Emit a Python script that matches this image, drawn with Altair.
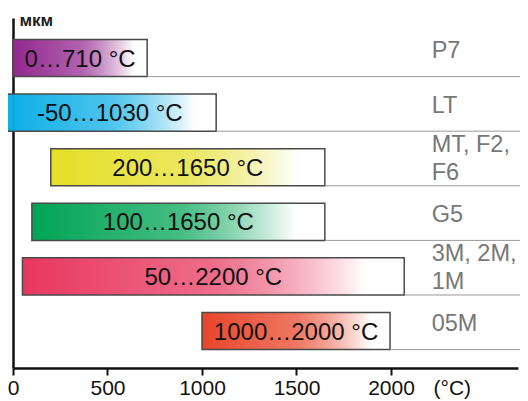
import altair as alt
import pandas as pd

# ---- data ----
label_lines = [["P7"], ["LT"], ["MT, F2,", "F6"], ["G5"], ["3M, 2M,", "1M"], ["05M"]]
# bar extents (°C) as drawn in the picture
t_min = [0, -50, 200, 100, 50, 1000]
t_max = [710, 1075, 1650, 1650, 2070, 1995]
range_text = ["0…710 °C", "-50…1030 °C", "200…1650 °C", "100…1650 °C",
              "50…2200 °C", "1000…2000 °C"]
colors = ["#93278F", "#0AAEE6", "#E4DF26", "#00A455", "#E8375F", "#E8452A"]
tick_values = [0, 500, 1000, 1500, 2000]

LABEL_X = 2215  # data position (°C) of the type labels on the right
HALF = 0.34     # half bar thickness in row units
FONT = "Liberation Sans"

df = pd.DataFrame({
    "row": list(range(len(t_min))),
    "t_min": t_min,
    "t_max": t_max,
    "range_text": range_text,
    "lines": label_lines,
})
df["label_x"] = LABEL_X
df["n_lines"] = [len(l) for l in label_lines]

x_scale = alt.Scale(domain=[0, 2672], nice=False, zero=False)
y_scale = alt.Scale(domain=[-0.733, 5.677], reverse=True, nice=False, zero=False)

x_axis = alt.Axis(values=tick_values, format="d", grid=False, domainWidth=2.5,
                  domainColor="#111", tickColor="#111", tickWidth=2, tickSize=7,
                  labelFontSize=21, labelColor="#111", labelPadding=19,
                  labelBaseline="alphabetic", labelFont=FONT, labelFlush=False,
                  title="(°C)", titleFontSize=21, titleFontWeight="normal",
                  titleColor="#111", titleFont=FONT, titleX=420, titleY=26,
                  titleAlign="left", titleBaseline="alphabetic", titleAnchor="start")
y_axis = alt.Axis(grid=False, ticks=False, labels=False, domainWidth=2.5,
                  domainColor="#111", title="мкм", titleAngle=0, titleFontSize=17,
                  titleFontWeight="bold", titleColor="#222", titleFont=FONT,
                  titleX=6, titleY=7, titleAlign="left", titleBaseline="alphabetic",
                  titleAnchor="start")

base = alt.Chart(df).transform_calculate(
    y0=f"datum.row - {HALF}", y1=f"datum.row + {HALF}",
    mid="(datum.t_min + datum.t_max) / 2",
)

layers = []
for i, c in enumerate(colors):
    grad = alt.LinearGradient(
        gradient="linear", x1=0, x2=1, y1=0, y2=0,
        stops=[alt.GradientStop(offset=0, color=c),
               alt.GradientStop(offset=0.5, color=c + "BB"),
               alt.GradientStop(offset=0.9, color="#FFFFFF")],
    )
    layers.append(
        base.transform_filter(f"datum.row == {i}").mark_rect(
            fill=grad, stroke="#4a4a4a", strokeWidth=1.5
        ).encode(
            x=alt.X("t_min:Q", scale=x_scale, axis=x_axis),
            x2="t_max:Q",
            y=alt.Y("y0:Q", scale=y_scale, axis=y_axis),
            y2="y1:Q",
        )
    )

rules = base.mark_rule(color="#999", strokeWidth=1).encode(
    x=alt.X("t_max:Q", scale=x_scale, axis=x_axis),
    x2=alt.value(515),
    y=alt.Y("y1:Q", scale=y_scale, axis=y_axis),
)

bar_text = base.mark_text(fontSize=24, font=FONT, color="#111", align="center",
                          baseline="middle", dy=1.5).encode(
    x=alt.X("mid:Q", scale=x_scale, axis=x_axis),
    y=alt.Y("row:Q", scale=y_scale, axis=y_axis),
    text="range_text:N",
)

type_text_1 = base.transform_filter("datum.n_lines == 1").mark_text(
    fontSize=23.5, font=FONT, color="#777", align="left", baseline="middle", dy=-7
).encode(
    x=alt.X("label_x:Q", scale=x_scale, axis=x_axis),
    y=alt.Y("row:Q", scale=y_scale, axis=y_axis),
    text="lines:N",
)

type_text_2 = base.transform_filter("datum.n_lines == 2").mark_text(
    fontSize=23.5, font=FONT, color="#777", align="left", baseline="middle",
    lineHeight=28, dy=-22
).encode(
    x=alt.X("label_x:Q", scale=x_scale, axis=x_axis),
    y=alt.Y("row:Q", scale=y_scale, axis=y_axis),
    text="lines:N",
)

chart = alt.layer(*layers, rules, bar_text, type_text_1, type_text_2).properties(
    width=505, height=350,
    autosize=alt.AutoSizeParams(type="none"),
    padding={"left": 5, "top": 10, "right": 2, "bottom": 33},
    background="white",
).configure_view(stroke=None)

chart.save("out.html", embed_options={"renderer": "svg", "actions": False})
